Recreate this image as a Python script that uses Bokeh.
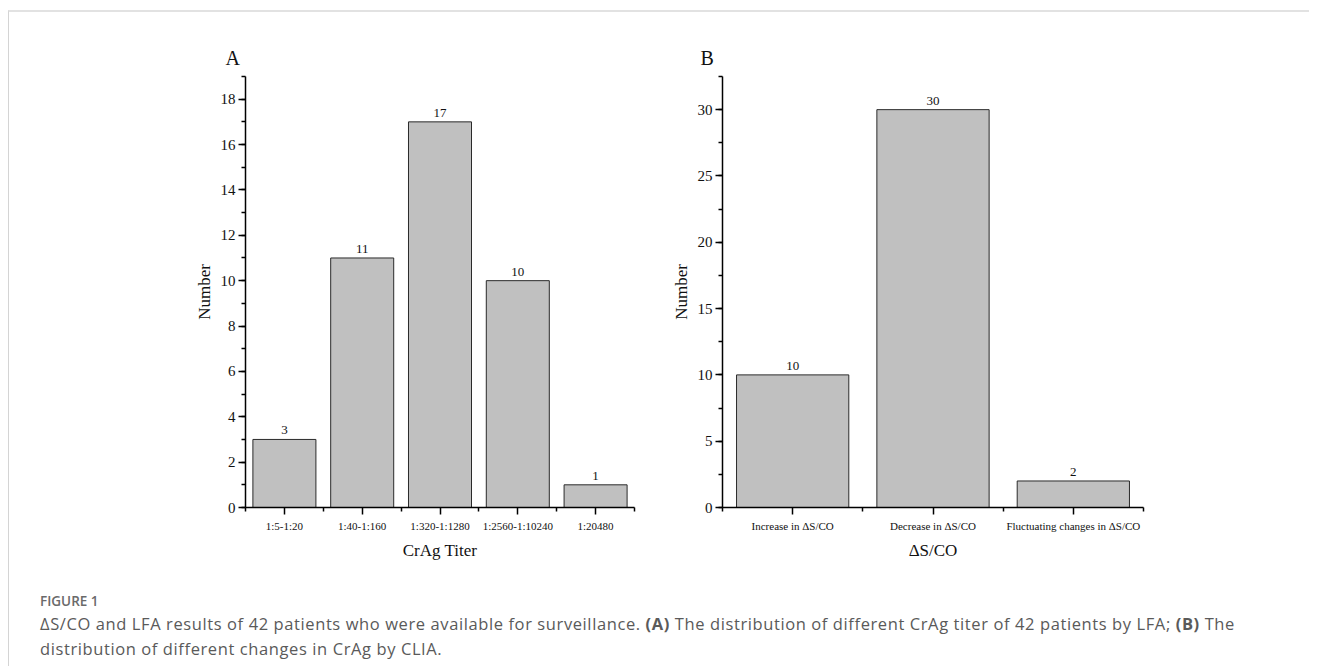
from bokeh.plotting import figure
from bokeh.models import (Range1d, FixedTicker, SingleIntervalTicker, Title, Div, ColumnDataSource)
from bokeh.layouts import row, column
from bokeh.core.properties import value
from bokeh.embed import file_html
from bokeh.resources import INLINE

# ---- data ----
titer_categories = ["1:5-1:20", "1:40-1:160", "1:320-1:1280", "1:2560-1:10240", "1:20480"]
titer_counts = [3, 11, 17, 10, 1]

change_categories = ["Increase in \u0394S/CO", "Decrease in \u0394S/CO", "Fluctuating changes in \u0394S/CO"]
change_counts = [10, 30, 2]

SERIF = "Liberation Serif"


def make_panel(letter, cats, counts, ymax, yinterval, xlabel, width, border_left,
               border_right, bar_width, title_offset):
    n = len(cats)
    xs = list(range(1, n + 1))
    p = figure(width=width, height=550, output_backend="svg", toolbar_location=None,
               x_range=Range1d(0.5, n + 0.5), y_range=Range1d(0, ymax),
               min_border_left=border_left, min_border_right=border_right,
               min_border_top=64, min_border_bottom=55)
    p.outline_line_color = None
    p.grid.visible = False
    p.background_fill_color = "white"
    p.border_fill_color = "white"

    src = ColumnDataSource(dict(x=xs, top=counts, lab=[str(c) for c in counts]))
    p.vbar(x="x", top="top", width=bar_width, source=src, fill_color="#c0c0c0",
           line_color="#2a2a2a", line_width=1)
    p.text(x="x", y="top", text="lab", source=src, text_align="center",
           text_baseline="bottom", y_offset=-5, text_font=value(SERIF),
           text_font_size="13px", text_color="#111")

    # x axis
    xa = p.xaxis[0]
    xa.ticker = FixedTicker(ticks=xs, minor_ticks=[x - 0.5 for x in xs] + [n + 0.5])
    xa.major_label_overrides = {x: c for x, c in zip(xs, cats)}
    xa.axis_label = xlabel
    # y axis
    ya = p.yaxis[0]
    ya.ticker = SingleIntervalTicker(interval=yinterval, num_minor_ticks=2)
    ya.axis_label = "Number"

    for ax in (xa, ya):
        ax.axis_line_width = 1.5
        ax.axis_line_color = "black"
        ax.major_tick_line_width = 1.5
        ax.minor_tick_line_width = 1.5
        ax.major_tick_line_color = "black"
        ax.minor_tick_line_color = "black"
        ax.major_tick_in = 0
        ax.minor_tick_in = 0
        ax.major_tick_out = 7
        ax.minor_tick_out = 4
        ax.major_label_text_font = SERIF
        ax.axis_label_text_font = SERIF
        ax.axis_label_text_font_style = "normal"
        ax.axis_label_text_font_size = "17px"
        ax.major_label_text_color = "#111"
        ax.axis_label_text_color = "#111"
    xa.major_label_text_font_size = "11px"
    ya.major_label_text_font_size = "15px"
    xa.major_label_standoff = 5
    ya.major_label_standoff = 3
    xa.axis_label_standoff = 6
    ya.axis_label_standoff = 4

    p.title = Title(text=letter, align="left", offset=title_offset, standoff=16,
                    text_font=SERIF, text_font_size="20px", text_font_style="normal",
                    text_color="#111")
    return p


pA = make_panel("A", titer_categories, titer_counts, 19, 2, "CrAg Titer",
                width=655, border_left=236, border_right=30, bar_width=0.81, title_offset=-20)
pB = make_panel("B", change_categories, change_counts, 32.5, 5, "\u0394S/CO",
                width=509, border_left=58, border_right=30, bar_width=0.8, title_offset=-22)

caption = Div(text=(
    "<div style=\"font-family:'Open Sans', sans-serif; color:#5a5a5a; padding-left:26px; padding-top:24px;\">"
    "<div style='font-size:13.5px; font-weight:600; color:#6a6a6a; line-height:20px;'>FIGURE 1</div>"
    "<div style='font-size:16.5px; letter-spacing:0.6px; line-height:25px; white-space:nowrap;'>"
    "\u0394S/CO and LFA results of 42 patients who were available for surveillance. "
    "<b>(A)</b> The distribution of different CrAg titer of 42 patients by LFA; <b>(B)</b> The<br>"
    "distribution of different changes in CrAg by CLIA.</div></div>"),
    width=1290, height=96)

layout = column(row(pA, pB), caption,
                styles={"margin": "10px 0 0 8px",
                        "border-top": "2px solid #e2e2e2", "border-left": "1px solid #d4d4d4"})

open("out.html", "w").write(file_html(layout, INLINE))
